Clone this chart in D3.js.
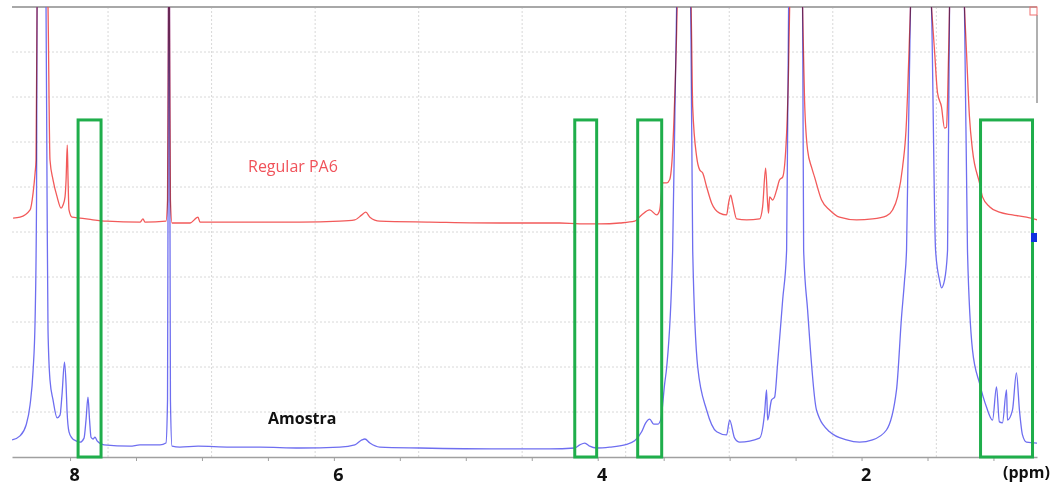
<!DOCTYPE html>
<html>
<head>
<meta charset="utf-8">
<script src="https://cdn.jsdelivr.net/npm/d3@7"></script>
<style>
  body { margin: 0; background: #fff; }
  svg { display: block; }
  .trace { fill: none; stroke-width: 1.3; mix-blend-mode: multiply; }
</style>
</head>
<body>
<div id="chart"></div>
<script>
var width = 1061, height = 485;

// ppm window shown and intensity window (arbitrary units, 100 = top of frame)
const ppmRange = [8.44, 0.67];
const intRange = [0, 100];

// tick positions (ppm) and the ones that carry a label
const tickPpm = [8, 7.5, 7, 6.5, 6, 5.5, 5, 4.5, 4, 3.5, 3, 2.5, 2, 1.5, 1];
const labelPpm = [8, 6, 4, 2];
// display grid of the spectrometer software
const gridPpm = [7.712, 6.927, 6.142, 5.357, 4.573, 3.788, 3.003, 2.218, 1.433];
const gridInt = [10, 20, 30, 40, 50, 60, 70, 80, 90];

// highlighted regions [from ppm, to ppm, top intensity]
const boxes = [
  [7.939, 7.765, 74.9],
  [4.174, 4.008, 74.9],
  [3.697, 3.515, 74.9],
  [1.098, 0.704, 74.9]
];

// Regular PA6 spectrum [ppm, intensity]
const regular = [
  [8.432,53.1],[8.379,53.3],[8.303,54.9],[8.280,58.7],[8.265,63.1],[8.258,66.0],[8.250,100],[8.212,140],
  [8.167,100],[8.152,66.0],[8.129,61.6],[8.098,57.8],[8.068,55.3],[8.053,56.0],[8.038,57.8],[8.030,61.6],
  [8.021,69.3],[8.015,61.6],[8.008,54.9],[7.985,53.3],[7.924,53.1],[7.826,52.7],[7.720,52.4],[7.470,52.2],
  [7.447,52.9],[7.432,52.2],[7.273,52.4],[7.261,57.1],[7.254,100],[7.250,140],[7.246,100],[7.239,57.1],
  [7.227,52.0],[7.091,52.0],[7.030,53.3],[7.015,52.2],[6.864,52.2],[6.561,52.2],[6.258,52.2],[5.955,52.4],
  [5.841,52.7],[5.788,53.8],[5.758,54.4],[5.727,53.3],[5.652,52.4],[5.273,52.2],[4.742,52.0],[4.288,52.0],
  [4.136,51.8],[3.985,51.8],[3.833,52.0],[3.720,52.4],[3.667,53.8],[3.606,54.9],[3.553,53.8],[3.530,54.9],
  [3.507,60.9],[3.477,60.9],[3.455,61.6],[3.432,68.2],[3.417,79.3],[3.402,94.2],[3.398,100],[3.345,140],
  [3.292,100],[3.288,92.7],[3.280,77.8],[3.250,66.7],[3.227,63.8],[3.204,63.1],[3.174,60.0],[3.136,56.4],
  [3.076,54.2],[3.023,53.8],[3.008,56.4],[2.992,58.2],[2.977,56.4],[2.947,52.9],[2.871,52.7],[2.773,52.9],
  [2.750,55.6],[2.727,64.2],[2.712,56.4],[2.705,54.2],[2.697,57.8],[2.674,57.1],[2.644,59.3],[2.621,61.6],
  [2.598,62.2],[2.568,72.0],[2.553,86.7],[2.545,100],[2.496,140],[2.447,100],[2.443,94.2],[2.432,79.3],
  [2.409,68.2],[2.379,64.4],[2.356,62.2],[2.303,57.1],[2.242,54.9],[2.167,53.3],[2.038,52.7],[1.917,52.9],
  [1.811,53.6],[1.765,54.9],[1.727,57.8],[1.689,64.4],[1.659,74.9],[1.651,80.9],[1.629,100],[1.553,140],
  [1.470,100],[1.447,90.4],[1.424,80.9],[1.394,77.8],[1.371,73.1],[1.356,73.3],[1.348,79.3],[1.333,100],
  [1.280,140],[1.220,100],[1.205,90.4],[1.182,75.6],[1.159,68.2],[1.106,60.9],[1.083,57.8],[1.030,55.6],
  [0.955,54.4],[0.856,53.8],[0.750,53.3],[0.667,52.7]
];

// Amostra spectrum [ppm, intensity]
const amostra = [
  [8.439,3.8],[8.379,4.7],[8.333,7.1],[8.303,11.6],[8.280,19.3],[8.265,30.4],[8.254,57.1],[8.250,100],
  [8.216,140],[8.182,100],[8.174,57.1],[8.167,28.2],[8.152,17.1],[8.129,12.7],[8.098,8.7],[8.076,9.3],
  [8.061,13.8],[8.042,21.1],[8.030,16.0],[8.023,10.4],[8.008,5.6],[7.985,4.2],[7.955,3.6],[7.924,3.3],
  [7.894,4.2],[7.879,8.2],[7.864,13.3],[7.852,8.2],[7.841,4.4],[7.826,4.0],[7.811,4.4],[7.795,3.6],
  [7.742,2.7],[7.545,2.4],[7.470,2.7],[7.318,2.7],[7.273,3.1],[7.261,12.7],[7.254,100],[7.250,140],
  [7.246,100],[7.239,12.7],[7.227,2.4],[7.167,2.2],[7.030,2.4],[6.788,2.2],[6.561,2.2],[6.258,2.0],
  [5.955,2.2],[5.841,2.7],[5.788,3.8],[5.765,4.0],[5.727,3.1],[5.652,2.2],[5.348,2.0],[4.742,1.8],
  [4.364,1.8],[4.174,2.0],[4.136,2.7],[4.098,3.1],[4.061,2.4],[4.008,2.0],[3.909,2.2],[3.795,2.7],
  [3.720,3.6],[3.667,5.6],[3.636,7.6],[3.606,8.4],[3.576,7.3],[3.545,7.3],[3.523,8.2],[3.492,16.4],
  [3.477,20.0],[3.432,46.0],[3.402,100],[3.348,140],[3.295,100],[3.280,46.0],[3.242,20.0],[3.174,10.4],
  [3.098,5.6],[3.023,4.9],[3.000,8.2],[2.962,4.2],[2.924,3.3],[2.773,4.2],[2.735,9.8],[2.720,14.9],
  [2.712,8.2],[2.682,12.7],[2.659,13.3],[2.636,20.9],[2.598,34.9],[2.568,46.0],[2.553,100],[2.500,140],
  [2.447,100],[2.439,46.0],[2.409,32.7],[2.341,10.4],[2.242,5.6],[2.114,3.8],[2.015,3.3],[1.917,3.8],
  [1.811,6.0],[1.735,14.9],[1.697,31.1],[1.674,39.3],[1.659,46.0],[1.629,100],[1.553,140],[1.470,100],
  [1.439,46.0],[1.409,39.3],[1.394,37.6],[1.371,39.3],[1.348,46.0],[1.333,100],[1.280,140],[1.220,100],
  [1.197,46.0],[1.159,23.8],[1.106,16.4],[1.053,11.1],[1.007,8.2],[0.977,15.6],[0.955,7.8],[0.932,7.6],
  [0.901,14.9],[0.894,8.2],[0.856,10.4],[0.826,18.7],[0.803,10.4],[0.780,4.9],[0.750,3.3],[0.667,3.1]
];

const plotLeft = 12, plotRight = 1037, plotTop = 7, plotBottom = 457;

const x = d3.scaleLinear().domain(ppmRange).range([plotLeft, plotRight]);
const y = d3.scaleLinear().domain(intRange).range([plotBottom, plotTop]);

const svg = d3.select("#chart").append("svg")
    .attr("width", width)
    .attr("height", height)
    .style("background", "#fff");

svg.append("defs").append("clipPath").attr("id", "plot")
  .append("rect")
    .attr("x", plotLeft).attr("y", plotTop)
    .attr("width", plotRight - plotLeft).attr("height", plotBottom - plotTop);

// dotted grid
const grid = svg.append("g").attr("stroke", "#d8d8d8").attr("stroke-dasharray", "2,2");
grid.selectAll("line.v").data(gridPpm).join("line")
    .attr("class", "v")
    .attr("x1", d => x(d)).attr("x2", d => x(d))
    .attr("y1", plotTop).attr("y2", plotBottom);
grid.selectAll("line.h").data(gridInt).join("line")
    .attr("class", "h")
    .attr("x1", plotLeft).attr("x2", plotRight)
    .attr("y1", d => y(d)).attr("y2", d => y(d));

// frame top
svg.append("line")
    .attr("x1", plotLeft).attr("x2", plotRight)
    .attr("y1", plotTop).attr("y2", plotTop)
    .attr("stroke", "#a8a8a8").attr("stroke-width", 2);

// spectra
const line = d3.line()
    .x(d => x(d[0]))
    .y(d => y(d[1]))
    .curve(d3.curveMonotoneX);

const traces = svg.append("g").attr("clip-path", "url(#plot)");
traces.append("path").datum(regular)
    .attr("class", "trace")
    .attr("stroke", "#f25a5a")
    .attr("d", line);
traces.append("path").datum(amostra)
    .attr("class", "trace")
    .attr("stroke", "#6e6ef0")
    .attr("d", line);

// bottom axis
const axis = d3.axisBottom(x)
    .tickValues(tickPpm)
    .tickSize(4)
    .tickSizeOuter(0)
    .tickPadding(7)
    .tickFormat(d => labelPpm.includes(d) ? d : "");

const gx = svg.append("g")
    .attr("transform", "translate(0," + plotBottom + ")")
    .call(axis);
gx.select(".domain").attr("stroke", "#a0a0a0").attr("stroke-width", 1.5);
gx.selectAll(".tick line").attr("stroke", "#a0a0a0");
gx.selectAll(".tick text")
    .attr("dx", 4)
    .attr("fill", "#111")
    .style("font-family", "'Open Sans', sans-serif")
    .style("font-size", "18px")
    .style("font-weight", "bold");

svg.append("text")
    .attr("x", 1003).attr("y", 478)
    .style("font-family", "'Open Sans', sans-serif")
    .style("font-size", "16px")
    .style("font-weight", "bold")
    .attr("fill", "#111")
    .text("(ppm)");

// highlighted regions
svg.append("g").selectAll("rect").data(boxes).join("rect")
    .attr("x", d => x(d[0]))
    .attr("y", d => y(d[2]))
    .attr("width", d => x(d[1]) - x(d[0]))
    .attr("height", d => y(0) - y(d[2]))
    .attr("fill", "none")
    .attr("stroke", "#1fae4b")
    .attr("stroke-width", 3);

// trace labels
svg.append("text")
    .attr("x", 248).attr("y", 172)
    .attr("fill", "#f0525a")
    .style("font-family", "'Open Sans', sans-serif")
    .style("font-size", "16px")
    .text("Regular PA6");

svg.append("text")
    .attr("x", 268).attr("y", 424)
    .attr("fill", "#111")
    .style("font-family", "'Open Sans', sans-serif")
    .style("font-size", "16px")
    .style("font-weight", "bold")
    .text("Amostra");

// little window decorations on the right edge
svg.append("line")
    .attr("x1", plotRight).attr("x2", plotRight).attr("y1", 15).attr("y2", 103)
    .attr("stroke", "#b0b0b0").attr("stroke-width", 2);
svg.append("rect")
    .attr("x", plotRight - 7).attr("y", plotTop).attr("width", 7).attr("height", 8)
    .attr("fill", "none").attr("stroke", "#f07070").attr("stroke-width", 1);
svg.append("rect")
    .attr("x", plotRight - 6).attr("y", 233).attr("width", 6).attr("height", 9)
    .attr("fill", "#1030e0");
</script>
</body>
</html>
